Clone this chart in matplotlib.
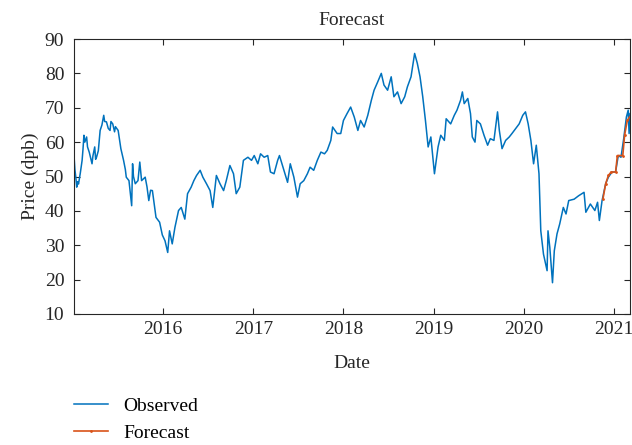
import matplotlib
matplotlib.use("Agg")
import matplotlib.pyplot as plt

# observed price, decimal year vs dollars per barrel
obs_t = [2015.01, 2015.02, 2015.03, 2015.04, 2015.05, 2015.06, 2015.08, 2015.10, 2015.11, 2015.12,
         2015.13, 2015.15, 2015.16, 2015.18, 2015.21, 2015.22, 2015.24, 2015.25, 2015.26, 2015.28,
         2015.30, 2015.32, 2015.34, 2015.35, 2015.37, 2015.39, 2015.41, 2015.42, 2015.44, 2015.46,
         2015.47, 2015.50, 2015.52, 2015.53, 2015.56, 2015.58, 2015.59, 2015.62, 2015.64, 2015.65,
         2015.66, 2015.67, 2015.69, 2015.72, 2015.74, 2015.76, 2015.80, 2015.82, 2015.84, 2015.86,
         2015.88, 2015.91, 2015.92, 2015.96, 2015.99, 2016.02, 2016.05, 2016.07, 2016.10, 2016.13,
         2016.17, 2016.20, 2016.24, 2016.27, 2016.31, 2016.34, 2016.37, 2016.41, 2016.44, 2016.48,
         2016.52, 2016.55, 2016.59, 2016.63, 2016.67, 2016.70, 2016.74, 2016.78, 2016.81, 2016.85,
         2016.89, 2016.94, 2016.98, 2017.01, 2017.05, 2017.08, 2017.12, 2017.16, 2017.19, 2017.23,
         2017.27, 2017.29, 2017.34, 2017.38, 2017.41, 2017.45, 2017.49, 2017.52, 2017.56, 2017.60,
         2017.63, 2017.67, 2017.71, 2017.75, 2017.79, 2017.82, 2017.86, 2017.88, 2017.93, 2017.97,
         2018.00, 2018.04, 2018.08, 2018.12, 2018.16, 2018.19, 2018.23, 2018.27, 2018.31, 2018.34,
         2018.38, 2018.42, 2018.45, 2018.49, 2018.53, 2018.56, 2018.60, 2018.64, 2018.68, 2018.71,
         2018.75, 2018.79, 2018.82, 2018.85, 2018.88, 2018.91, 2018.94, 2018.97, 2019.01, 2019.05,
         2019.08, 2019.12, 2019.14, 2019.19, 2019.23, 2019.26, 2019.30, 2019.32, 2019.34, 2019.38,
         2019.41, 2019.43, 2019.46, 2019.48, 2019.52, 2019.56, 2019.60, 2019.63, 2019.67, 2019.71,
         2019.73, 2019.76, 2019.80, 2019.84, 2019.87, 2019.91, 2019.95, 2019.99, 2020.02, 2020.05,
         2020.08, 2020.11, 2020.14, 2020.17, 2020.19, 2020.22, 2020.26, 2020.27, 2020.29, 2020.32,
         2020.34, 2020.37, 2020.40, 2020.44, 2020.47, 2020.50, 2020.56, 2020.61, 2020.67, 2020.69,
         2020.74, 2020.79, 2020.82, 2020.84, 2020.87, 2020.91, 2020.94, 2020.98, 2021.02, 2021.05,
         2021.08, 2021.11, 2021.14, 2021.16, 2021.17, 2021.18]
obs_v = [56.1, 52.0, 49.8, 46.9, 48.5, 47.8, 51.0, 54.7, 58.0, 62.0,
         60.0, 61.5, 58.6, 57.0, 53.7, 56.0, 58.6, 55.0, 55.6, 57.5,
         63.4, 65.0, 67.8, 66.0, 65.9, 64.0, 63.4, 66.0, 65.3, 63.0,
         64.5, 63.4, 60.0, 58.1, 54.7, 52.0, 49.8, 48.8, 44.0, 41.5,
         53.7, 50.0, 47.9, 48.8, 54.2, 48.8, 49.8, 47.0, 43.0, 46.0,
         45.9, 40.0, 38.1, 36.7, 33.0, 31.3, 27.9, 34.2, 30.4, 35.2,
         40.1, 41.0, 37.6, 45.0, 46.9, 48.8, 50.3, 51.8, 49.8, 47.9,
         45.9, 41.0, 50.3, 47.9, 45.9, 48.8, 53.2, 50.8, 45.0, 46.9,
         54.7, 55.6, 54.7, 56.1, 53.7, 56.6, 55.6, 56.1, 51.3, 50.8,
         54.7, 56.1, 51.8, 48.3, 53.7, 49.8, 44.0, 47.9, 48.8, 50.8,
         52.7, 51.8, 54.7, 57.1, 56.6, 57.6, 60.5, 64.4, 62.5, 62.5,
         66.3, 68.3, 70.2, 67.3, 63.4, 66.3, 64.4, 67.8, 72.2, 75.1,
         77.5, 80.0, 76.6, 75.1, 79.0, 73.2, 74.6, 71.2, 73.2, 76.1,
         79.0, 85.8, 82.9, 79.0, 73.2, 66.3, 58.6, 61.5, 50.8, 58.6,
         62.0, 60.5, 66.8, 65.3, 67.8, 69.3, 72.2, 74.6, 71.2, 72.7,
         68.3, 61.5, 60.0, 66.3, 65.3, 62.0, 59.1, 61.0, 60.5, 68.8,
         63.4, 58.1, 60.5, 61.5, 62.5, 63.9, 65.3, 67.8, 68.8, 65.3,
         60.5, 53.7, 59.1, 50.8, 34.2, 27.4, 22.6, 34.2, 29.4, 19.1,
         28.4, 33.3, 36.2, 41.0, 39.1, 43.0, 43.4, 44.4, 45.4, 39.6,
         42.0, 40.1, 42.5, 37.2, 43.0, 47.9, 49.8, 51.3, 51.3, 56.1,
         55.6, 61.0, 67.3, 69.3, 62.5, 68.3]

# forecast
fc_t = [2020.88, 2020.91, 2020.94, 2020.97, 2021.02, 2021.04, 2021.10, 2021.12, 2021.15, 2021.19]
fc_v = [43.5, 47.9, 50.3, 51.3, 51.3, 56.1, 56.1, 62.0, 66.3, 67.8]

years = [2016, 2017, 2018, 2019, 2020, 2021]

plt.rcParams["font.family"] = ["Liberation Serif", "DejaVu Serif"]
plt.rcParams["font.size"] = 14

fig = plt.figure(figsize=(6.32, 4.45), dpi=100)
ax = fig.add_axes([74 / 632, 1 - 314 / 445, 556 / 632, 275 / 445])

ax.plot(obs_t, obs_v, color="#0072BD", lw=1.1, label="Observed")
ax.plot(fc_t, fc_v, color="#D95319", lw=1.2, marker=".", ms=2, label="Forecast")

ax.set_xlim(2015.01, 2021.18)
ax.set_ylim(10, 90)
ax.set_xticks(years)
ax.set_xticklabels([str(y) for y in years])
ax.set_yticks(range(10, 91, 10))

dark = "#262626"
for s in ax.spines.values():
    s.set_color(dark)
    s.set_linewidth(0.8)
ax.tick_params(direction="in", top=True, right=True, length=4, width=0.8,
               colors=dark, labelsize=14)
ax.tick_params(axis="x", pad=5)
ax.tick_params(axis="y", pad=7)

ax.set_title("Forecast", fontsize=14, pad=10, color=dark)
ax.set_xlabel("Date", fontsize=14, labelpad=12, color=dark)
ax.set_ylabel("Price (dpb)", fontsize=14, labelpad=4, color=dark)

fig.legend(loc="upper left", bbox_to_anchor=(74 / 632, 1 - 397 / 445),
           frameon=False, fontsize=14, handlelength=1.75, handletextpad=0.77,
           labelspacing=0.5, borderpad=0, borderaxespad=0)

fig.savefig("out.png", dpi=100)
